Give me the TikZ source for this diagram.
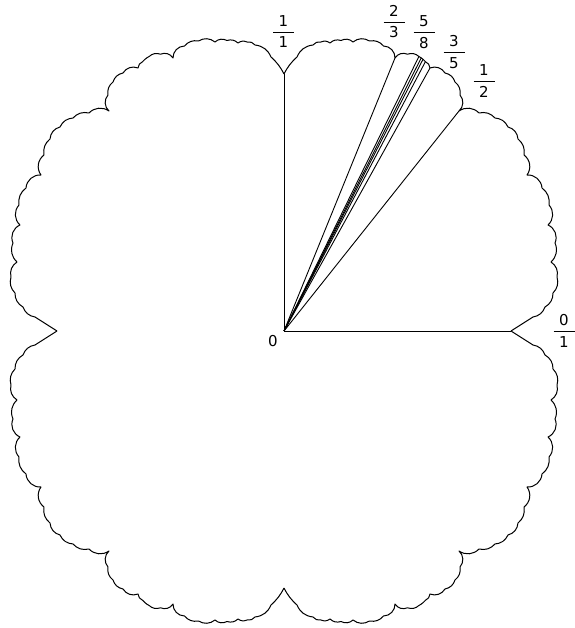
\documentclass[tikz,border=0pt]{standalone}
\usepackage{fontspec}
\setmainfont{DejaVu Sans}
\setlength{\arrayrulewidth}{0.7pt}
\newcommand{\fr}[2]{\begin{tabular}{@{}c@{}}\makebox[21pt]{#1}\\\hline\rule{0pt}{15.5pt}#2\end{tabular}}
% rim of one quadrant: x/y/bend, from the 0/1 arm round to the 1/1 cusp
\newcommand{\rimpts}{261/24/30, 269/38/30, 273/54/30, 267/69/35, 271/88/35, 264/106/45,
  265/126/45, 258/143/30, 243/156/45, 240/176/45, 234/192/30, 224/204/35, 211/213/30,
  195/218/30, 175/220/40, 176/236/45, 171/249/30, 161/258/30, 146/263/40, 141.4/269.3/30,
  139/271.7/20, 137.2/273.1/20, 134.9/274.5/20, 123.5/276.8/30, 111/273/40, 99.5/285/45,
  85.5/290/30, 69/289/35, 57/290.5/35, 46/288/30, 37/289/30, 29/286/30, 13/274/30, 0/257/10}
\newcommand{\rimquad}[3]{\draw[rim] (#1*227,0) -- (#1*249,#2*14)
  \foreach \x/\y/\bnd in \rimpts {to[bend #3=\bnd] (#1*\x,#2*\y)};}
\begin{document}
\begin{tikzpicture}[x=1pt,y=1pt,
  rim/.style={line width=1pt,line join=round},
  ray/.style={line width=0.9pt},
  lab/.style={inner sep=0pt,font=\fontsize{15}{18}\selectfont}]
\useasboundingbox (-284,-297) rectangle (290,331);
\rimquad{1}{1}{right}
\rimquad{-1}{1}{left}
\rimquad{-1}{-1}{right}
\rimquad{1}{-1}{left}
\coordinate (o) at (0,0);
\coordinate (p01) at (227,0);
\coordinate (p12) at (175,220);
\coordinate (p35) at (146,263);
\coordinate (p813) at (141.4,269.3);
\coordinate (p2134) at (139,271.7);
\coordinate (p1321) at (137.2,273.1);
\coordinate (p58) at (134.9,274.5);
\coordinate (p23) at (111,273);
\coordinate (p11) at (0,257);
\foreach \p in {p01,p12,p35,p813,p2134,p1321,p58,p23,p11}
  \draw[ray] (o) -- (\p);
\node[lab] (l0) at (-11,-10) {0};
\node[lab] (l01) at (280,-2) {\fr{0}{1}};
\node[lab] (l12) at (200,248) {\fr{1}{2}};
\node[lab] (l35) at (170,277) {\fr{3}{5}};
\node[lab] (l58) at (140,297) {\fr{5}{8}};
\node[lab] (l23) at (110,307.5) {\fr{2}{3}};
\node[lab] (l11) at (-0.5,297.5) {\fr{1}{1}};
\end{tikzpicture}
\end{document}
